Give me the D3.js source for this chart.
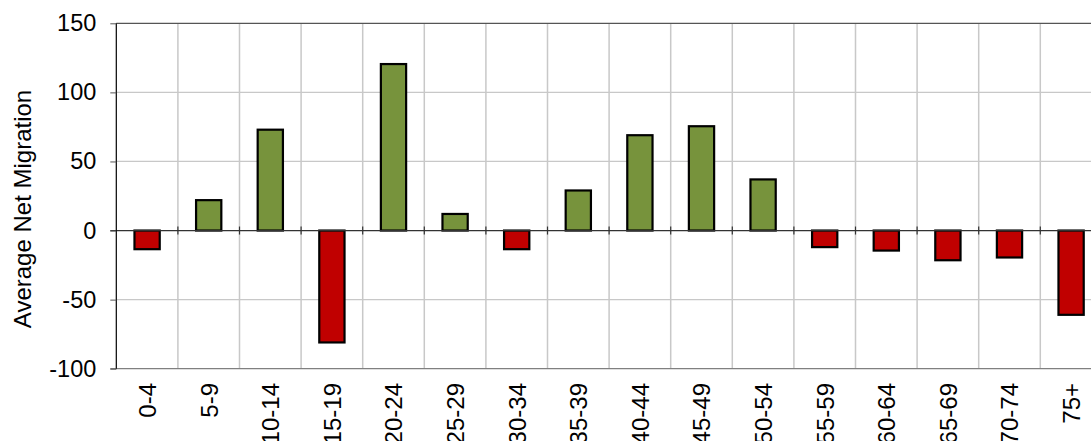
<!DOCTYPE html>
<html>
<head>
<meta charset="utf-8">
<script src="https://cdn.jsdelivr.net/npm/d3@7"></script>
<style>
  html, body { margin: 0; padding: 0; background: #fff; overflow: hidden; }
  svg { display: block; font-family: "Liberation Sans", Arial, sans-serif; }
</style>
</head>
<body>
<svg id="chart" width="1091" height="441"></svg>
<script>
const categories = ["0-4","5-9","10-14","15-19","20-24","25-29","30-34","35-39","40-44","45-49","50-54","55-59","60-64","65-69","70-74","75+"];
const values = [-13.5, 22, 73, -81, 120.5, 12, -13.5, 29, 69, 75.5, 37, -12, -14.5, -21.5, -19.5, -61];
const yTicks = [-100, -50, 0, 50, 100, 150];
const yTitle = "Average Net Migration";

const svg = d3.select("#chart");
const left = 116.3, step = 61.6;
const x = d3.scaleBand().domain(categories).range([left, left + step * categories.length]).padding(0);
const y = d3.scaleLinear().domain([-100, 150]).range([368.7, 23.3]);

// vertical gridlines at category boundaries
svg.append("g").selectAll("line").data(categories.slice(1)).join("line")
  .attr("x1", d => x(d)).attr("x2", d => x(d))
  .attr("y1", y(150)).attr("y2", y(-100))
  .attr("stroke", "#c8c8c8").attr("stroke-width", 1.5);

// horizontal gridlines
svg.append("g").selectAll("line").data(yTicks.filter(t => t !== 0 && t !== -100 && t !== 150)).join("line")
  .attr("x1", left).attr("x2", 1091)
  .attr("y1", d => y(d)).attr("y2", d => y(d))
  .attr("stroke", "#c8c8c8").attr("stroke-width", 1.2);

// top line
svg.append("line").attr("x1", left).attr("x2", 1091).attr("y1", y(150)).attr("y2", y(150))
  .attr("stroke", "#555").attr("stroke-width", 1.2);
// bottom line
svg.append("line").attr("x1", left - 6).attr("x2", 1091).attr("y1", y(-100)).attr("y2", y(-100))
  .attr("stroke", "#808080").attr("stroke-width", 1.2);

// bars
const bw = step * 0.41;
svg.append("g").selectAll("rect").data(categories).join("rect")
  .attr("x", d => x(d) + step / 2 - bw / 2)
  .attr("width", bw)
  .attr("y", (d, i) => y(Math.max(0, values[i])))
  .attr("height", (d, i) => Math.abs(y(values[i]) - y(0)))
  .attr("fill", (d, i) => values[i] >= 0 ? "#77933C" : "#C00000")
  .attr("stroke", "#000").attr("stroke-width", 2.2);

// zero line with ticks
svg.append("line").attr("x1", left - 6).attr("x2", 1091).attr("y1", y(0)).attr("y2", y(0))
  .attr("stroke", "#333").attr("stroke-width", 1.2);
svg.append("g").selectAll("line").data(categories.slice(1)).join("line")
  .attr("x1", d => x(d)).attr("x2", d => x(d))
  .attr("y1", y(0) - 4).attr("y2", y(0) + 4)
  .attr("stroke", "#333").attr("stroke-width", 1.2);

// y axis
const yAxis = d3.axisLeft(y).tickValues(yTicks).tickSize(6).tickPadding(14).tickFormat(d => String(d));
const ga = svg.append("g").attr("transform", `translate(${left},0)`).call(yAxis);
ga.select(".domain").attr("stroke", "#000").attr("stroke-width", 1.2).attr("d", `M0,${y(150)}V${y(-100)}`);
ga.selectAll(".tick line").attr("stroke", "#555");
ga.selectAll(".tick text").attr("font-size", 23.5).attr("fill", "#000")
  .attr("font-family", "Liberation Sans, Arial, sans-serif");

// x labels
svg.append("g").selectAll("text").data(categories).join("text")
  .attr("transform", d => `translate(${x(d) + step / 2 + 0.5},383) rotate(-90)`)
  .attr("text-anchor", "end").attr("dy", "0.35em")
  .attr("font-size", 24).attr("fill", "#000")
  .text(d => d);

// y title
svg.append("text")
  .attr("transform", `translate(31,209) rotate(-90)`)
  .attr("text-anchor", "middle")
  .attr("font-size", 24).attr("fill", "#000")
  .text(yTitle);
</script>
</body>
</html>
